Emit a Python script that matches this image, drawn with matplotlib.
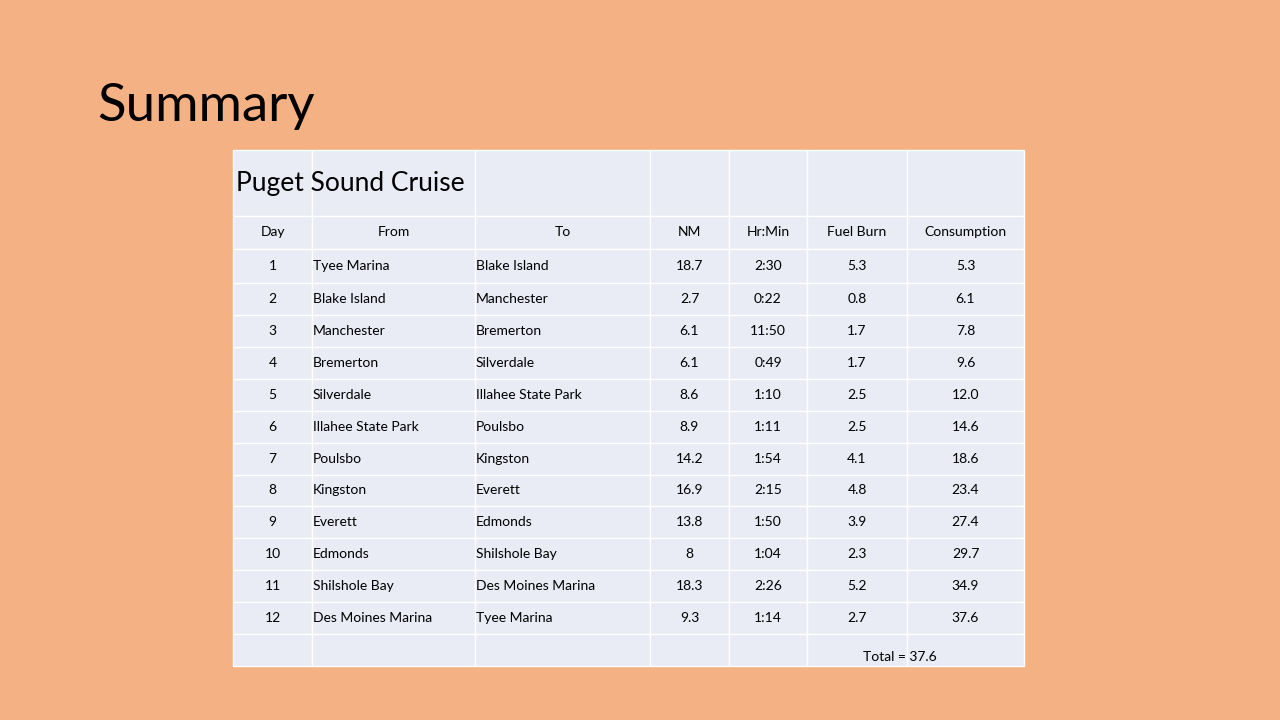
import matplotlib.pyplot as plt
from matplotlib.patches import Rectangle

title = "Summary"
table_title = "Puget Sound Cruise"
headers = ["Day", "From", "To", "NM", "Hr:Min", "Fuel Burn", "Consumption"]
days = [1, 2, 3, 4, 5, 6, 7, 8, 9, 10, 11, 12]
origins = ["Tyee Marina", "Blake Island", "Manchester", "Bremerton", "Silverdale",
           "Illahee State Park", "Poulsbo", "Kingston", "Everett", "Edmonds",
           "Shilshole Bay", "Des Moines Marina"]
dests = ["Blake Island", "Manchester", "Bremerton", "Silverdale", "Illahee State Park",
         "Poulsbo", "Kingston", "Everett", "Edmonds", "Shilshole Bay",
         "Des Moines Marina", "Tyee Marina"]
nm = ["18.7", "2.7", "6.1", "6.1", "8.6", "8.9", "14.2", "16.9", "13.8", "8", "18.3", "9.3"]
times = ["2:30", "0:22", "11:50", "0:49", "1:10", "1:11", "1:54", "2:15", "1:50", "1:04", "2:26", "1:14"]
fuel = ["5.3", "0.8", "1.7", "1.7", "2.5", "2.5", "4.1", "4.8", "3.9", "2.3", "5.2", "2.7"]
consumption = ["5.3", "6.1", "7.8", "9.6", "12.0", "14.6", "18.6", "23.4", "27.4", "29.7", "34.9", "37.6"]
total_label = "Total = 37.6"

# layout in pixels
col_x = [233, 312, 475, 650, 729, 807, 907, 1024]
row_y = [150, 216, 249, 283, 315, 347, 379, 411, 443, 475, 506, 538, 570, 602, 634, 666]
align = ["center", "left", "left", "center", "center", "center", "center"]

plt.rcParams['font.family'] = ['Lato', 'DejaVu Sans']
fig = plt.figure(figsize=(12.8, 7.2), dpi=100)
fig.patch.set_facecolor("#F4B183")
ax = fig.add_axes([0, 0, 1, 1])
ax.set_xlim(0, 1280)
ax.set_ylim(720, 0)
ax.axis("off")

ax.text(97, 107, title, fontsize=38, va="center", ha="left", color="black")

cell_col = "#E9EBF5"
for r in range(len(row_y) - 1):
    for c in range(len(col_x) - 1):
        ax.add_patch(Rectangle((col_x[c], row_y[r]), col_x[c + 1] - col_x[c],
                               row_y[r + 1] - row_y[r], facecolor=cell_col,
                               edgecolor="white", linewidth=1))

ax.text(236, (row_y[0] + row_y[1]) / 2, table_title, fontsize=19, va="center", ha="left")


def put(c, r, s, a):
    yc = (row_y[r] + row_y[r + 1]) / 2
    if a == "center":
        x = (col_x[c] + col_x[c + 1]) / 2
    else:
        x = col_x[c] + 1
    ax.text(x, yc, s, fontsize=10, va="center", ha=a, color="black")


for c, h in enumerate(headers):
    put(c, 1, h, "center")

for i in range(len(days)):
    row = [str(days[i]), origins[i], dests[i], nm[i], times[i], fuel[i], consumption[i]]
    for c, s in enumerate(row):
        put(c, i + 2, s, align[c])

ax.text(900, 657, total_label, fontsize=10, va="center", ha="center")

fig.savefig("out.png", dpi=100, facecolor=fig.get_facecolor())
